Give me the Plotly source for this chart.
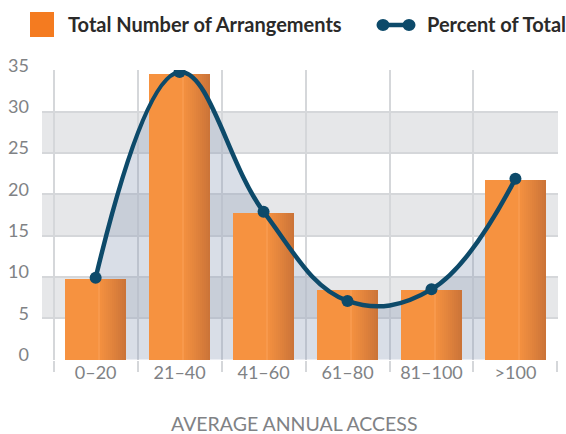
import plotly.graph_objects as go

# ---- data ----
categories = ["0–20", "21–40", "41–60", "61–80", "81–100", ">100"]
total_arrangements = [9.8, 34.6, 17.8, 8.4, 8.4, 21.7]
percent_of_total = [9.9, 34.8, 17.9, 7.1, 8.5, 21.9]
y_ticks = [0, 5, 10, 15, 20, 25, 30, 35]
x_title = "AVERAGE ANNUAL ACCESS"
bar_name = "Total Number of Arrangements"
line_name = "Percent of Total"

# ---- style ----
W, H = 566, 434
ML, MR, MT, MB = 42, 8, 70, 74
FONT = "Lato"
ORANGE = (246, 146, 64)
ORANGE_DARK = (202, 115, 56)
NAVY = "#0D4A6A"
GRID = "#D5D7DA"
BAND = "#E6E7E9"
FILL = "rgba(140,154,182,0.33)"
TXT_GREY = "#808285"
SMOOTH = 1.15

plot_w = W - ML - MR
plot_h = H - MT - MB


def px_x(p):
    return (p - ML) / plot_w


def px_y(p):
    return (H - MB - p) / plot_h


fig = go.Figure()

# area under the curve (main subplot, drawn below bars)
fig.add_trace(go.Scatter(
    x=categories, y=percent_of_total, mode="lines",
    line=dict(width=0, shape="spline", smoothing=SMOOTH, color="rgba(0,0,0,0)"),
    fill="tozeroy", fillcolor=FILL, hoverinfo="skip", showlegend=False,
    xaxis="x", yaxis="y",
))

# bars with a horizontal gradient on the right side (overlay strips)
BW = 0.72
fig.add_trace(go.Bar(
    x=categories, y=total_arrangements, name=bar_name,
    width=BW, offset=-BW / 2,
    marker=dict(color="rgb(%d,%d,%d)" % ORANGE, line=dict(width=0)),
    showlegend=False, xaxis="x", yaxis="y2",
))
N = 14
start = 0.54
for i in range(N):
    f0 = start + (1 - start) * i / N
    t = (i + 0.5) / N
    t = t ** 1.1
    c = tuple(int(round(ORANGE[k] + (ORANGE_DARK[k] - ORANGE[k]) * t)) for k in range(3))
    if i == 0:
        c = (248, 153, 76)
    fig.add_trace(go.Bar(
        x=categories, y=total_arrangements,
        width=BW * (1 - start) / N + 0.002, offset=-BW / 2 + BW * f0,
        marker=dict(color="rgb(%d,%d,%d)" % c, line=dict(width=0)),
        showlegend=False, hoverinfo="skip", xaxis="x", yaxis="y2",
    ))

# line
fig.add_trace(go.Scatter(
    x=categories, y=percent_of_total, name=line_name, mode="lines+markers",
    line=dict(width=4.5, shape="spline", smoothing=SMOOTH, color=NAVY),
    marker=dict(size=12, color=NAVY),
    showlegend=False, xaxis="x", yaxis="y2",
))

# alternating bands
shapes = []
for lo, hi in zip(y_ticks[1::2], y_ticks[2::2]):
    shapes.append(dict(type="rect", xref="paper", yref="y", x0=0, x1=1, y0=lo, y1=hi,
                       fillcolor=BAND, line=dict(width=0), layer="below"))

# custom legend
shapes.append(dict(type="rect", xref="paper", yref="paper",
                   x0=px_x(30), x1=px_x(54), y0=px_y(37), y1=px_y(12),
                   fillcolor="#F47B20", line=dict(width=0)))
shapes.append(dict(type="line", xref="paper", yref="paper",
                   x0=px_x(383), x1=px_x(409), y0=px_y(25), y1=px_y(25),
                   line=dict(color=NAVY, width=4.5)))
for cx in (383, 409):
    shapes.append(dict(type="circle", xref="paper", yref="paper",
                       x0=px_x(cx - 6.5), x1=px_x(cx + 6.5), y0=px_y(25 + 6), y1=px_y(25 - 6),
                       fillcolor=NAVY, line=dict(width=0)))

annotations = [
    dict(text=bar_name, xref="paper", yref="paper", x=px_x(66), y=px_y(24),
         xanchor="left", yanchor="middle", showarrow=False,
         font=dict(family=FONT, size=20, color="#2B2A29", weight="bold")),
    dict(text=line_name, xref="paper", yref="paper", x=px_x(425), y=px_y(24),
         xanchor="left", yanchor="middle", showarrow=False,
         font=dict(family=FONT, size=20, color="#2B2A29", weight="bold")),
    dict(text=x_title, xref="paper", yref="paper", x=px_x(294), y=px_y(423),
         xanchor="center", yanchor="middle", showarrow=False,
         font=dict(family=FONT, size=19.5, color=TXT_GREY)),
]

YR = [-0.05, 35.05]
XR = [-0.639, 5.507]

fig.update_layout(
    width=W, height=H,
    margin=dict(l=ML, r=MR, t=MT, b=MB, pad=0),
    paper_bgcolor="white", plot_bgcolor="rgba(0,0,0,0)",
    barmode="overlay", bargap=0,
    showlegend=False,
    shapes=shapes, annotations=annotations,
    font=dict(family=FONT),
    xaxis=dict(
        type="category", categoryorder="array", categoryarray=categories,
        range=XR, tickson="boundaries", showgrid=True, gridcolor=GRID, gridwidth=1.5,
        ticks="outside", ticklen=11, tickwidth=1.5, tickcolor=GRID,
        tickfont=dict(family=FONT, size=18, color=TXT_GREY),
        showline=False, zeroline=False, fixedrange=True, automargin=False,
    ),
    yaxis=dict(
        range=YR, tickvals=y_ticks, showgrid=True, gridcolor=GRID, gridwidth=1.5,
        ticks="", zeroline=False, showline=False,
        ticklabelposition="outside", ticklabelstandoff=12, ticklabelshift=-5,
        tickfont=dict(family=FONT, size=18, color=TXT_GREY), automargin=False,
    ),
    yaxis2=dict(range=YR, overlaying="y", visible=False, showgrid=False),
)

fig.write_html("out.html", config={"displayModeBar": False},
               post_script="document.body.style.margin='0';")
